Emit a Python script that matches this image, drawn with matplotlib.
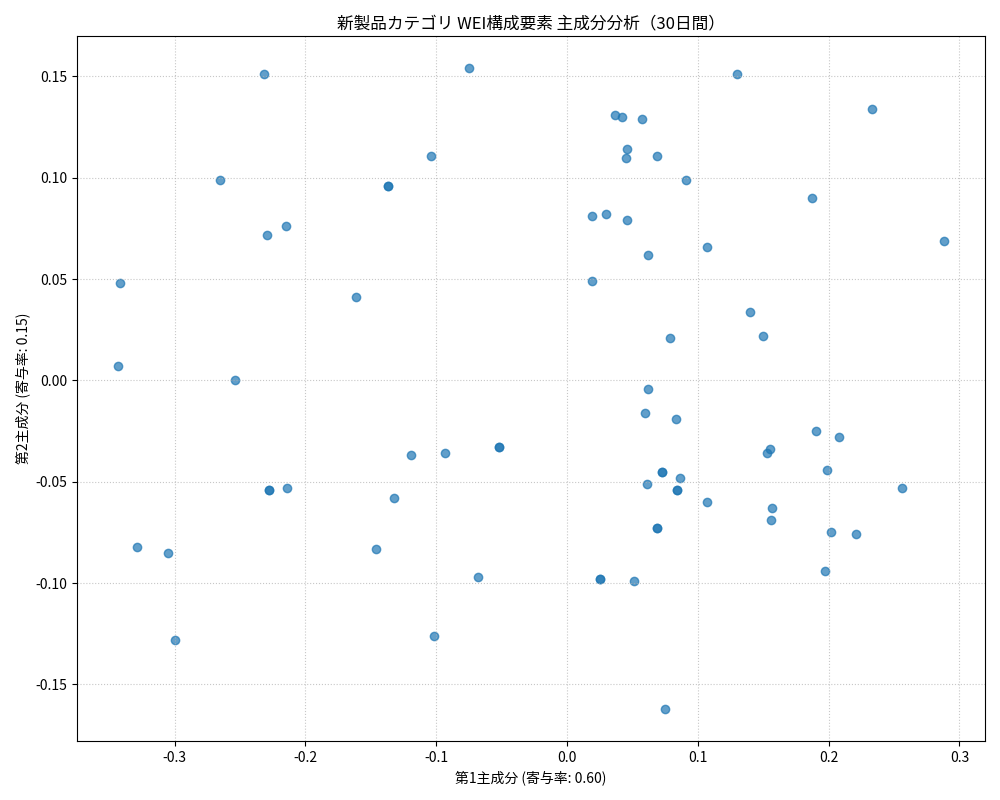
import matplotlib
matplotlib.use("Agg")
import matplotlib.pyplot as plt

plt.rcParams['font.family'] = ['Noto Sans CJK JP', 'DejaVu Sans']
plt.rcParams['axes.unicode_minus'] = False

# 主成分スコア
pc1 = [-0.232, -0.075, 0.130, 0.233, 0.037, 0.042, 0.057, 0.046, 0.045, 0.069,
       -0.104, -0.265, -0.137, -0.137, 0.091, 0.187, 0.019, 0.030, 0.046, -0.215,
       -0.229, 0.107, 0.288, 0.062, -0.342, 0.019, -0.161, 0.140, 0.150, 0.079,
       -0.343, -0.254, 0.062, 0.060, 0.083, 0.190, 0.208, -0.052, -0.052, -0.093,
       0.155, 0.153, -0.119, 0.073, 0.073, 0.199, 0.086, 0.061, -0.228, -0.228,
       -0.214, 0.084, 0.084, 0.256, -0.132, 0.107, 0.157, 0.156, 0.069, 0.069,
       0.202, 0.221, -0.329, -0.305, -0.146, 0.197, -0.068, 0.025, 0.025, 0.051,
       -0.102, -0.300, 0.075]
pc2 = [0.151, 0.154, 0.151, 0.134, 0.131, 0.130, 0.129, 0.114, 0.110, 0.111,
       0.111, 0.099, 0.096, 0.096, 0.099, 0.090, 0.081, 0.082, 0.079, 0.076,
       0.072, 0.066, 0.069, 0.062, 0.048, 0.049, 0.041, 0.034, 0.022, 0.021,
       0.007, 0.000, -0.004, -0.016, -0.019, -0.025, -0.028, -0.033, -0.033, -0.036,
       -0.034, -0.036, -0.037, -0.045, -0.045, -0.044, -0.048, -0.051, -0.054, -0.054,
       -0.053, -0.054, -0.054, -0.053, -0.058, -0.060, -0.063, -0.069, -0.073, -0.073,
       -0.075, -0.076, -0.082, -0.085, -0.083, -0.094, -0.097, -0.098, -0.098, -0.099,
       -0.126, -0.128, -0.162]

fig, ax = plt.subplots(figsize=(10, 8), dpi=100)
ax.scatter(pc1, pc2, color='tab:blue', alpha=0.7)
ax.set_title("新製品カテゴリ WEI構成要素 主成分分析（30日間）")
ax.set_xlabel("第1主成分 (寄与率: 0.60)")
ax.set_ylabel("第2主成分 (寄与率: 0.15)")
ax.grid(True, linestyle=':', alpha=0.7)
fig.tight_layout()
fig.savefig("out.png")
